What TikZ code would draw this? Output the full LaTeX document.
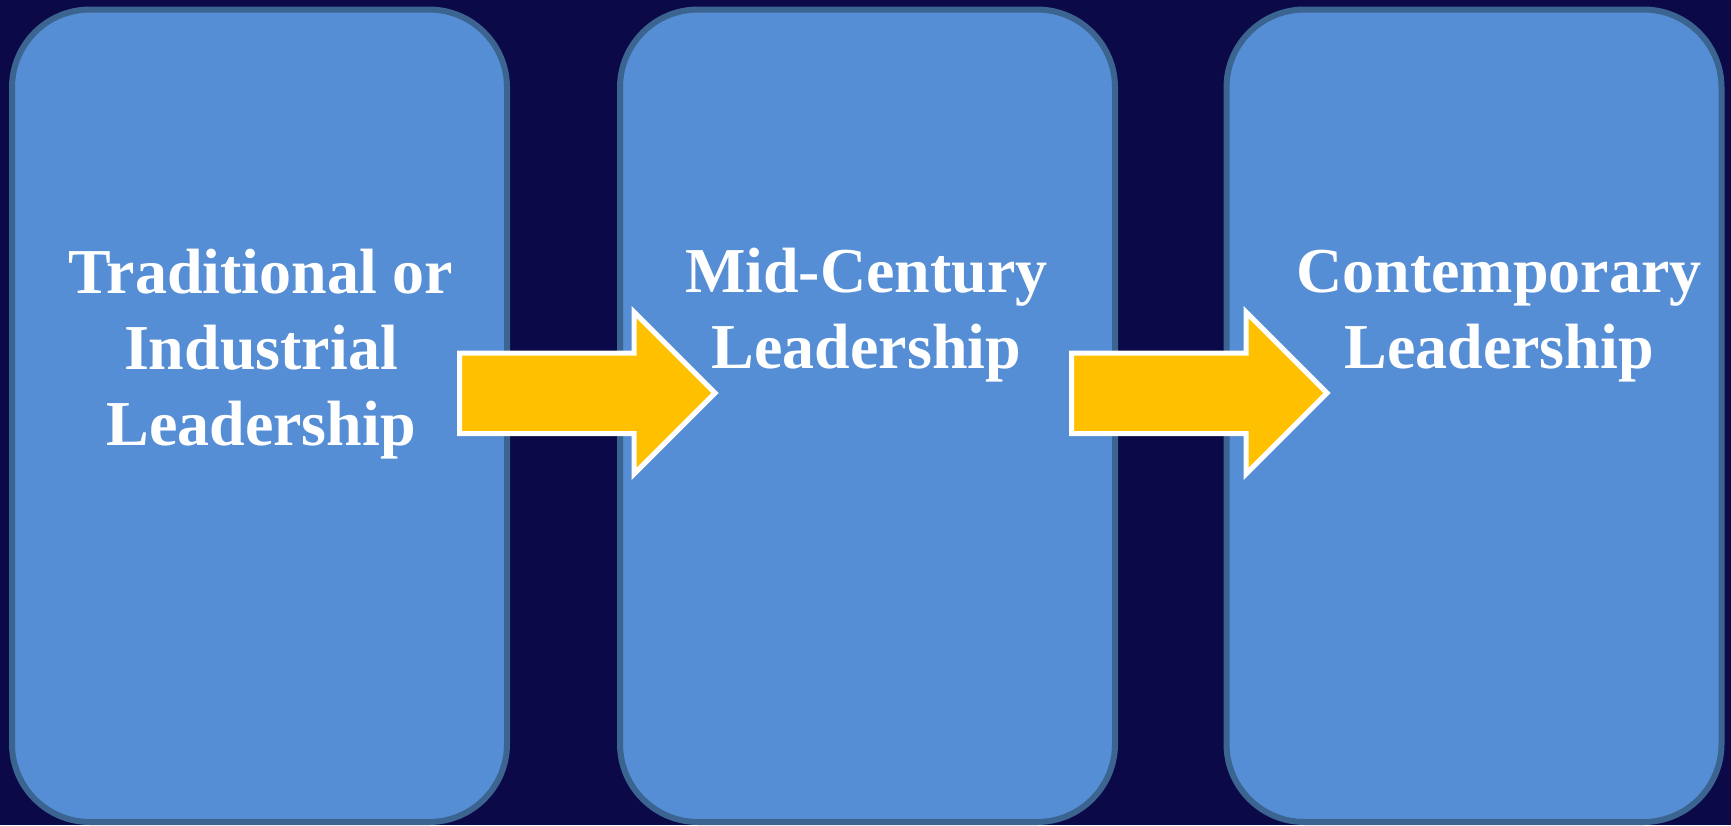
\documentclass[tikz,border=0pt]{standalone}
\usepackage{fontspec}
\setmainfont{Liberation Serif}
\definecolor{bgc}{RGB}{12,9,72}
\definecolor{boxfill}{RGB}{85,142,213}
\definecolor{boxline}{RGB}{60,100,145}
\definecolor{arrowfill}{RGB}{255,192,0}
\tikzset{
  stagebox/.style={draw=boxline, fill=boxfill, line width=6pt, rounded corners=78pt,
    rectangle, minimum width=495pt, minimum height=812.5pt, inner sep=0pt},
  stagetext/.style={text=white, font=\bfseries\fontsize{64}{76}\selectfont,
    align=center, anchor=base, inner sep=0pt},
  bigarrow/.style={draw=white, fill=arrowfill, line width=5pt, miter limit=10}
}
\begin{document}
\begin{tikzpicture}[x=1pt,y=-1pt]
\useasboundingbox (0,0) rectangle (1731,825);
\fill[bgc] (0,0) rectangle (1731,825);
\node[stagebox] (b1) at (259.5,415.75) {};
\node[stagebox] (b2) at (867.5,415.75) {};
\node[stagebox] (b3) at (1474,415.75) {};
\node[stagetext] (t1) at (261,445) {Traditional or\\Industrial\\Leadership};
\node[stagetext] (t2) at (866.5,368) {Mid-Century\\Leadership};
\node[stagetext] (t3) at (1499,368) {Contemporary\\Leadership};
\draw[bigarrow] (459.5,353) -- (634,353) -- (634,312) -- (715,393) -- (634,474) -- (634,433.5) -- (459.5,433.5) -- cycle;
\draw[bigarrow] (1071.5,353) -- (1246,353) -- (1246,312) -- (1327,393) -- (1246,474) -- (1246,433.5) -- (1071.5,433.5) -- cycle;
\end{tikzpicture}
\end{document}
